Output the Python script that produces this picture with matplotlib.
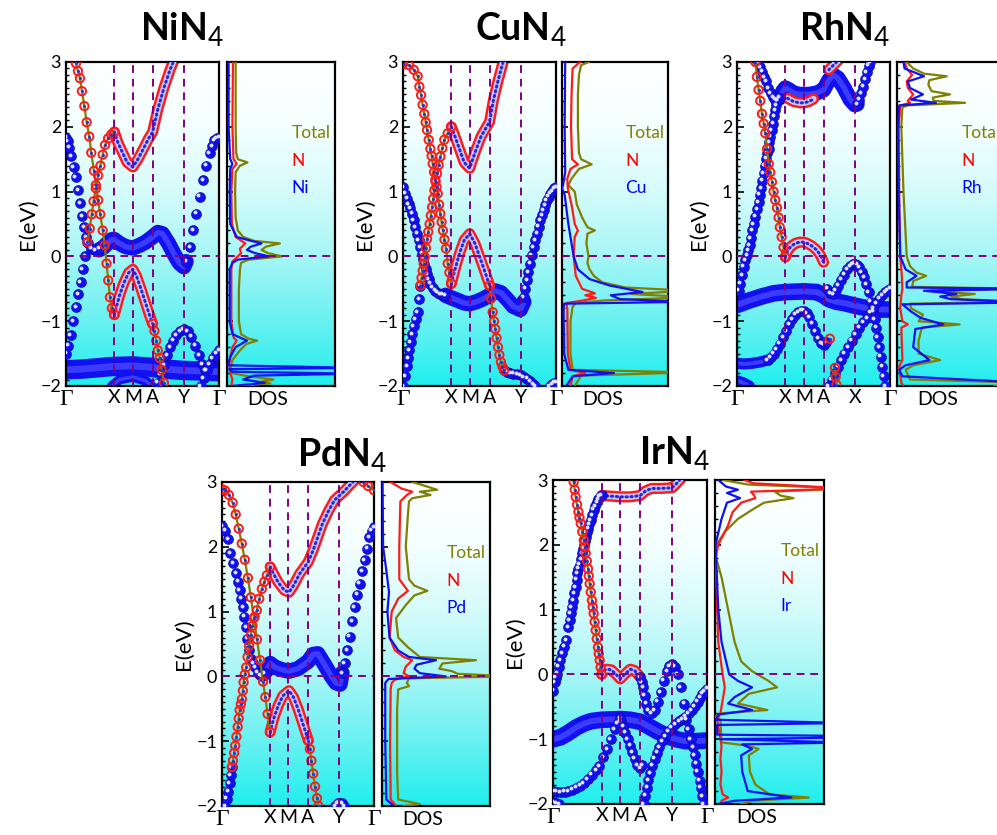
import numpy as np
import matplotlib
matplotlib.use('Agg')
import matplotlib.pyplot as plt
from matplotlib.colors import LinearSegmentedColormap
from matplotlib.transforms import offset_copy
from matplotlib.ticker import MultipleLocator

plt.rcParams['font.family'] = ['Lato', 'DejaVu Sans']
plt.rcParams['mathtext.fontset'] = 'custom'
plt.rcParams['mathtext.rm'] = 'Lato'
plt.rcParams['mathtext.bf'] = 'Lato:bold'

# high-symmetry path positions (fraction of k-path)
kpath = [0.0, 0.316, 0.437, 0.566, 0.77, 1.0]
labels_y = ['Γ', 'X', 'M', 'A', 'Y', 'Γ']
labels_x = ['Γ', 'X', 'M', 'A', 'X', 'Γ']

# ------------------------- NiN4 -------------------------
ni_n_thin = [
    [(0.065, 2.98), (0.078, 2.86), (0.091, 2.75), (0.104, 2.55), (0.12, 2.32), (0.135, 2.07), (0.152, 1.85),
     (0.165, 1.6), (0.183, 1.32), (0.195, 1.1), (0.21, 0.87), (0.224, 0.65), (0.24, 0.4), (0.253, 0.17),
     (0.265, -0.11), (0.276, -0.37), (0.287, -0.63), (0.3, -0.8), (0.316, -0.9)],
    [(0.566, -1.04), (0.578, -1.15), (0.59, -1.3), (0.6, -1.45), (0.612, -1.57), (0.625, -1.75), (0.64, -1.95)],
    [(0.14, 0.22), (0.155, 0.43), (0.168, 0.65), (0.18, 0.85), (0.195, 1.05), (0.21, 1.25), (0.225, 1.4),
     (0.24, 1.57), (0.255, 1.72), (0.275, 1.82), (0.295, 1.88), (0.316, 1.92)],
]
ni_m_thin = [
    [(0.0, -1.5), (0.015, -1.38), (0.03, -1.22), (0.048, -1.0), (0.065, -0.78), (0.08, -0.58), (0.095, -0.4),
     (0.11, -0.2), (0.125, 0.0), (0.14, 0.22)],
    [(0.0, 1.83), (0.011, 1.78), (0.022, 1.68), (0.035, 1.55), (0.05, 1.38), (0.063, 1.22), (0.078, 1.02),
     (0.092, 0.82), (0.105, 0.62), (0.118, 0.45), (0.13, 0.3), (0.145, 0.2), (0.165, 0.12), (0.19, 0.1),
     (0.215, 0.12)],
    [(0.785, -0.08), (0.81, 0.14), (0.83, 0.4), (0.852, 0.66), (0.874, 0.92), (0.896, 1.18), (0.918, 1.4),
     (0.94, 1.59), (0.955, 1.7), (0.97, 1.79), (0.985, 1.82), (1.0, 1.83)],
    [(0.6, -1.95), (0.62, -1.82), (0.64, -1.68), (0.66, -1.52), (0.68, -1.4), (0.7, -1.3), (0.72, -1.22),
     (0.745, -1.15), (0.77, -1.12), (0.795, -1.15), (0.82, -1.24), (0.845, -1.38), (0.87, -1.52),
     (0.89, -1.66), (0.91, -1.76)],
    [(1.0, -1.45), (0.98, -1.5), (0.96, -1.57), (0.94, -1.66), (0.92, -1.76), (0.9, -1.88), (0.88, -2.0)],
]
ni_n_fat = [
    [(0.316, -0.9), (0.35, -0.6), (0.38, -0.4), (0.41, -0.25), (0.437, -0.2), (0.46, -0.3), (0.49, -0.5),
     (0.52, -0.72), (0.545, -0.9), (0.566, -1.04)],
    [(0.316, 1.92), (0.34, 1.75), (0.37, 1.6), (0.4, 1.45), (0.437, 1.38), (0.47, 1.5), (0.51, 1.68),
     (0.54, 1.82), (0.566, 1.92), (0.6, 2.27), (0.64, 2.6), (0.68, 2.88), (0.71, 3.05)],
]
ni_m_fat = [
    [(0.215, 0.1), (0.24, 0.13), (0.27, 0.2), (0.3, 0.26), (0.316, 0.26), (0.35, 0.2), (0.39, 0.15),
     (0.437, 0.13), (0.48, 0.17), (0.52, 0.22), (0.566, 0.3), (0.6, 0.37), (0.63, 0.35), (0.67, 0.2),
     (0.71, 0.02), (0.74, -0.1), (0.77, -0.16), (0.785, -0.08)],
    [(0.0, -1.75), (0.1, -1.74), (0.2, -1.72), (0.3, -1.7), (0.437, -1.69), (0.55, -1.71), (0.65, -1.74),
     (0.77, -1.76), (0.9, -1.77), (1.0, -1.78)],
    [(0.3, -2.0), (0.35, -1.9), (0.437, -1.86), (0.52, -1.92), (0.56, -2.0)],
]
ni_dos_total = [(3.0, 0.8), (2.5, 0.8), (2.0, 0.8), (1.6, 0.85), (1.5, 1.0), (1.45, 1.9), (1.4, 1.2), (1.3, 0.8),
                (1.0, 0.75), (0.6, 0.8), (0.4, 1.0), (0.3, 1.5), (0.24, 2.5), (0.2, 4.9), (0.15, 3.6), (0.1, 3.2),
                (0.05, 3.8), (0.0, 5.1), (-0.05, 2.0), (-0.1, 1.3), (-0.2, 1.2), (-0.5, 1.1), (-1.0, 1.1),
                (-1.2, 1.3), (-1.27, 2.0), (-1.3, 2.8), (-1.35, 1.8), (-1.45, 1.2), (-1.6, 0.5), (-1.7, 0.35),
                (-1.8, 0.4), (-1.85, 2.0), (-1.9, 4.3), (-1.93, 3.2), (-1.96, 4.0), (-2.0, 1.0)]
ni_dos_n = [(3.0, 0.55), (2.0, 0.5), (1.5, 0.6), (1.43, 0.9), (1.35, 0.5), (1.0, 0.4), (0.5, 0.45), (0.3, 0.8),
            (0.2, 1.7), (0.12, 1.2), (0.05, 1.3), (0.0, 1.0), (-0.08, 0.5), (-0.2, 0.4), (-1.0, 0.4),
            (-1.25, 0.6), (-1.3, 0.9), (-1.4, 0.5), (-1.65, 0.2), (-1.8, 0.3), (-1.9, 0.5), (-2.0, 0.4)]
ni_dos_m = [(3.0, 0.15), (2.0, 0.15), (1.5, 0.3), (1.43, 0.5), (1.35, 0.3), (1.0, 0.25), (0.5, 0.3), (0.3, 0.9),
            (0.25, 2.0), (0.2, 3.2), (0.15, 2.2), (0.1, 1.85), (0.05, 2.6), (0.0, 3.9), (-0.05, 1.0),
            (-0.1, 0.5), (-0.2, 0.25), (-1.0, 0.25), (-1.2, 0.5), (-1.3, 1.85), (-1.4, 0.8), (-1.55, 0.3),
            (-1.68, 0.1), (-1.72, 12), (-1.74, 0.2), (-1.78, 0.5), (-1.81, 12), (-1.84, 2.5), (-1.9, 1.5),
            (-1.95, 3.5), (-2.0, 0.5)]

# ------------------------- CuN4 -------------------------
cu_n_thin = [
    [(0.0, 2.97), (0.04, 2.95), (0.07, 2.88), (0.096, 2.78), (0.107, 2.62), (0.118, 2.49), (0.128, 2.34),
     (0.139, 2.2), (0.148, 2.07), (0.157, 1.95), (0.168, 1.8), (0.179, 1.66), (0.187, 1.55), (0.194, 1.43),
     (0.203, 1.3), (0.211, 1.18), (0.219, 1.07), (0.227, 0.97), (0.236, 0.8), (0.244, 0.66), (0.252, 0.53),
     (0.261, 0.4), (0.271, 0.26), (0.281, 0.12), (0.292, -0.11), (0.303, -0.25), (0.316, -0.42)],
    [(0.566, -0.45), (0.576, -0.65), (0.586, -0.86), (0.595, -1.0), (0.603, -1.12), (0.612, -1.26),
     (0.621, -1.4), (0.63, -1.52), (0.64, -1.63), (0.65, -1.7), (0.66, -1.76)],
    [(0.113, -0.45), (0.121, -0.33), (0.129, -0.22), (0.135, -0.11), (0.142, -0.01), (0.15, 0.13),
     (0.157, 0.27), (0.165, 0.38), (0.174, 0.5), (0.182, 0.63), (0.19, 0.76), (0.197, 0.89), (0.205, 1.02),
     (0.213, 1.15), (0.222, 1.28), (0.233, 1.41), (0.244, 1.54), (0.257, 1.67), (0.27, 1.8), (0.292, 1.9),
     (0.316, 2.0)],
]
cu_m_thin = [
    [(0.0, -2.0), (0.013, -1.85), (0.026, -1.69), (0.034, -1.57), (0.041, -1.45), (0.05, -1.32),
     (0.059, -1.2), (0.07, -1.08), (0.083, -0.97), (0.096, -0.86), (0.105, -0.66), (0.113, -0.45)],
    [(0.0, 1.07), (0.015, 0.97), (0.026, 0.89), (0.037, 0.81), (0.048, 0.74), (0.059, 0.66), (0.07, 0.56),
     (0.081, 0.45), (0.092, 0.35), (0.102, 0.25), (0.113, 0.14), (0.124, 0.04), (0.132, -0.04),
     (0.14, -0.11), (0.148, -0.19), (0.157, -0.27), (0.168, -0.35), (0.179, -0.42), (0.195, -0.48),
     (0.211, -0.53), (0.228, -0.56), (0.244, -0.58), (0.26, -0.59), (0.277, -0.6)],
    [(0.79, -0.63), (0.8, -0.5), (0.81, -0.37), (0.82, -0.24), (0.83, -0.11), (0.842, 0.02), (0.854, 0.14),
     (0.865, 0.25), (0.876, 0.35), (0.887, 0.46), (0.898, 0.56), (0.909, 0.64), (0.92, 0.71), (0.93, 0.79),
     (0.94, 0.87), (0.952, 0.92), (0.963, 0.97), (0.975, 1.01), (0.987, 1.05), (1.0, 1.07)],
    [(0.66, -1.76), (0.68, -1.78), (0.7, -1.8), (0.72, -1.81), (0.745, -1.82), (0.77, -1.83), (0.79, -1.86),
     (0.81, -1.89), (0.83, -1.93), (0.85, -1.97), (0.865, -2.0)],
    [(0.96, -2.0), (0.975, -1.97), (0.99, -1.95), (1.0, -1.95)],
]
cu_n_fat = [
    [(0.316, -0.42), (0.34, -0.2), (0.37, 0.05), (0.4, 0.25), (0.436, 0.35), (0.47, 0.2), (0.5, 0.0),
     (0.53, -0.2), (0.566, -0.45)],
    [(0.316, 2.0), (0.34, 1.85), (0.37, 1.65), (0.4, 1.45), (0.436, 1.36), (0.47, 1.6), (0.51, 1.85),
     (0.566, 2.08), (0.59, 2.4), (0.62, 2.7), (0.66, 3.05)],
]
cu_m_fat = [
    [(0.277, -0.6), (0.316, -0.64), (0.36, -0.68), (0.4, -0.72), (0.437, -0.73), (0.48, -0.7), (0.52, -0.66),
     (0.566, -0.6), (0.6, -0.53), (0.64, -0.56), (0.68, -0.66), (0.72, -0.77), (0.767, -0.82), (0.79, -0.7)],
]
cu_dos_total = [(3.0, 2.5), (2.95, 1.8), (2.8, 1.6), (2.5, 1.5), (2.0, 1.5), (1.6, 1.6), (1.5, 1.8), (1.42, 2.8),
                (1.35, 1.6), (1.2, 0.9), (1.1, 0.6), (1.05, 0.9), (1.0, 1.2), (0.8, 1.4), (0.6, 1.9), (0.45, 2.4),
                (0.4, 3.1), (0.35, 2.4), (0.2, 2.3), (0.0, 2.5), (-0.1, 2.4), (-0.2, 2.6), (-0.3, 3.0),
                (-0.4, 3.8), (-0.48, 6.0), (-0.53, 12), (-0.58, 6.5), (-0.63, 12), (-0.68, 4.0), (-0.72, 1.3),
                (-0.78, 1.0), (-1.0, 0.8), (-1.5, 0.8), (-1.75, 1.0), (-1.79, 12), (-1.84, 1.8), (-1.92, 1.5),
                (-2.0, 1.2)]
cu_dos_n = [(3.0, 1.7), (2.9, 1.0), (2.5, 0.9), (2.0, 0.85), (1.5, 0.95), (1.42, 1.5), (1.35, 0.8), (1.2, 0.5),
            (1.05, 0.55), (0.8, 0.9), (0.5, 1.2), (0.4, 1.5), (0.3, 1.2), (0.0, 1.1), (-0.3, 1.3), (-0.5, 1.9),
            (-0.57, 3.1), (-0.6, 2.2), (-0.64, 3.2), (-0.68, 2.0), (-0.72, 0.4), (-0.8, 0.5), (-1.5, 0.55),
            (-1.75, 0.8), (-1.8, 2.2), (-1.85, 1.0), (-2.0, 0.8)]
cu_dos_m = [(3.0, 0.3), (2.0, 0.25), (1.3, 0.3), (1.1, 0.1), (1.05, 0.0), (0.95, 0.25), (0.5, 0.6), (0.2, 0.9),
            (0.0, 1.1), (-0.2, 1.5), (-0.35, 2.6), (-0.45, 4.5), (-0.55, 7.6), (-0.6, 4.6), (-0.66, 5.5),
            (-0.7, 12), (-0.73, 0.2), (-0.8, 0.15), (-1.5, 0.2), (-1.75, 0.6), (-1.8, 4.9), (-1.85, 1.0),
            (-2.0, 0.4)]

# ------------------------- RhN4 -------------------------
rh_n_thin = [
    [(0.12, 3.0), (0.13, 2.77), (0.141, 2.57), (0.152, 2.4), (0.163, 2.2), (0.174, 2.05), (0.185, 1.9),
     (0.196, 1.66), (0.207, 1.43), (0.217, 1.3), (0.228, 1.15), (0.239, 1.0), (0.25, 0.87), (0.261, 0.75),
     (0.272, 0.6), (0.28, 0.45), (0.292, 0.3), (0.304, 0.14), (0.316, -0.01)],
    [(0.64, -1.72), (0.645, -1.86), (0.65, -1.98)],
    [(0.607, -1.27)],
]
rh_m_thin = [
    [(0.01, -0.53), (0.022, -0.42), (0.033, -0.29), (0.043, -0.16), (0.055, -0.06), (0.065, 0.02),
     (0.074, 0.1), (0.083, 0.17), (0.09, 0.28), (0.098, 0.4), (0.109, 0.5), (0.12, 0.61), (0.13, 0.73),
     (0.141, 0.84), (0.149, 0.95), (0.157, 1.05), (0.165, 1.17), (0.174, 1.28), (0.182, 1.4), (0.191, 1.51),
     (0.199, 1.59), (0.207, 1.66), (0.212, 1.76), (0.217, 1.85), (0.226, 1.95), (0.235, 2.05),
     (0.243, 2.16), (0.25, 2.26), (0.258, 2.33), (0.265, 2.41)],
    [(0.14, 3.0), (0.152, 2.92), (0.165, 2.85), (0.178, 2.77), (0.19, 2.7), (0.205, 2.6), (0.22, 2.52),
     (0.235, 2.46), (0.25, 2.42), (0.265, 2.41), (0.28, 2.45)],
    [(0.785, 2.35), (0.8, 2.42), (0.812, 2.52), (0.824, 2.62), (0.836, 2.73), (0.848, 2.84), (0.86, 2.94),
     (0.87, 3.0)],
    [(0.59, -0.5), (0.61, -0.57), (0.63, -0.58), (0.645, -0.52), (0.66, -0.45), (0.68, -0.36), (0.7, -0.28),
     (0.72, -0.2), (0.74, -0.15), (0.755, -0.12), (0.77, -0.11), (0.785, -0.13), (0.8, -0.17),
     (0.815, -0.24), (0.83, -0.32), (0.845, -0.43), (0.86, -0.55), (0.875, -0.7), (0.89, -0.85),
     (0.9, -0.97), (0.91, -1.1), (0.92, -1.25), (0.93, -1.4), (0.94, -1.55), (0.95, -1.7), (0.96, -1.85),
     (0.97, -2.0)],
    [(1.0, -0.5), (0.985, -0.52), (0.97, -0.55), (0.95, -0.6), (0.93, -0.65), (0.91, -0.72), (0.89, -0.8),
     (0.87, -0.87), (0.85, -0.95), (0.825, -1.02), (0.8, -1.1), (0.775, -1.2), (0.75, -1.3), (0.725, -1.4),
     (0.7, -1.5), (0.68, -1.6), (0.66, -1.7), (0.64, -1.8), (0.62, -1.9), (0.6, -2.0)],
    [(0.2, -1.6), (0.22, -1.56), (0.24, -1.5), (0.26, -1.43), (0.28, -1.35), (0.3, -1.25), (0.32, -1.15),
     (0.34, -1.05), (0.36, -0.97), (0.38, -0.9), (0.4, -0.86), (0.42, -0.84), (0.437, -0.84), (0.455, -0.88),
     (0.47, -0.94), (0.49, -1.04), (0.51, -1.15), (0.53, -1.26), (0.55, -1.34), (0.566, -1.36),
     (0.58, -1.32)],
]
rh_n_fat = [
    [(0.316, -0.01), (0.33, 0.08), (0.35, 0.15), (0.38, 0.2), (0.41, 0.22), (0.437, 0.22), (0.46, 0.2),
     (0.49, 0.16), (0.52, 0.1), (0.545, 0.02), (0.566, -0.09)],
    [(0.33, 2.44), (0.37, 2.39), (0.41, 2.37), (0.437, 2.37), (0.47, 2.39), (0.5, 2.43)],
    [(0.6, 2.88), (0.63, 2.95), (0.66, 3.02)],
]
rh_m_fat = [
    [(0.28, 2.45), (0.3, 2.55), (0.316, 2.6), (0.34, 2.57), (0.37, 2.52), (0.41, 2.5), (0.437, 2.5),
     (0.47, 2.5), (0.52, 2.52), (0.566, 2.57), (0.6, 2.72), (0.63, 2.8), (0.66, 2.75), (0.7, 2.6),
     (0.74, 2.42), (0.77, 2.34), (0.785, 2.35)],
    [(0.0, -0.75), (0.08, -0.68), (0.16, -0.62), (0.24, -0.57), (0.316, -0.55), (0.437, -0.54), (0.52, -0.55),
     (0.566, -0.6), (0.6, -0.66), (0.65, -0.7), (0.7, -0.72), (0.77, -0.76), (0.85, -0.8), (0.93, -0.82),
     (1.0, -0.82)],
    [(0.0, -1.65), (0.05, -1.66), (0.1, -1.65), (0.15, -1.63), (0.2, -1.6)],
    [(0.0, -1.92), (0.04, -1.95), (0.08, -2.0)],
]
rh_dos_total = [(3.0, 0.9), (2.9, 1.5), (2.82, 2.5), (2.78, 4.6), (2.72, 3.0), (2.65, 2.9), (2.55, 3.2),
                (2.5, 4.9), (2.45, 3.3), (2.4, 3.4), (2.37, 6.3), (2.33, 1.0), (2.3, 0.5), (2.0, 0.4), (1.5, 0.5),
                (1.0, 0.6), (0.5, 0.75), (0.0, 0.9), (-0.15, 1.2), (-0.25, 1.8), (-0.3, 2.7), (-0.38, 1.5),
                (-0.47, 1.4), (-0.5, 12), (-0.53, 3.0), (-0.58, 7.2), (-0.62, 5.0), (-0.66, 6.0), (-0.7, 12),
                (-0.73, 1.2), (-0.8, 1.3), (-0.9, 2.4), (-1.0, 2.0), (-1.05, 5.8), (-1.1, 2.3), (-1.3, 2.0),
                (-1.5, 2.0), (-1.6, 4.0), (-1.68, 1.5), (-1.75, 0.8), (-1.9, 1.2), (-1.95, 12), (-2.0, 9)]
rh_dos_n = [(3.0, 0.7), (2.9, 0.9), (2.8, 1.4), (2.7, 0.9), (2.6, 1.0), (2.5, 1.5), (2.4, 1.0), (2.37, 1.2),
            (2.33, 0.3), (2.0, 0.15), (1.0, 0.2), (0.0, 0.3), (-0.3, 0.45), (-0.5, 0.5), (-0.6, 0.4),
            (-0.8, 0.3), (-1.0, 0.5), (-1.05, 1.0), (-1.1, 0.4), (-1.6, 0.5), (-1.7, 0.2), (-1.95, 0.4),
            (-2.0, 0.6)]
rh_dos_m = [(3.0, 0.6), (2.9, 0.7), (2.78, 2.5), (2.7, 1.0), (2.6, 1.2), (2.5, 2.4), (2.42, 1.3), (2.37, 3.6),
            (2.33, 0.2), (2.0, 0.1), (1.0, 0.15), (0.0, 0.3), (-0.2, 0.8), (-0.3, 1.8), (-0.4, 0.9),
            (-0.48, 0.9), (-0.5, 12), (-0.53, 2.5), (-0.58, 5.5), (-0.62, 4.0), (-0.66, 5.0), (-0.71, 12),
            (-0.74, 0.5), (-0.85, 1.3), (-0.95, 2.2), (-1.05, 4.3), (-1.12, 1.7), (-1.4, 1.5), (-1.6, 3.0),
            (-1.68, 0.8), (-1.75, 0.2), (-1.85, 0.5), (-1.95, 12), (-2.0, 10)]

# ------------------------- PdN4 -------------------------
pd_n_thin = [
    [(0.0, 2.89), (0.02, 2.87), (0.045, 2.8), (0.07, 2.68), (0.09, 2.5), (0.11, 2.28), (0.13, 2.05),
     (0.15, 1.8), (0.17, 1.52), (0.19, 1.22), (0.21, 0.9), (0.23, 0.57), (0.25, 0.25), (0.27, -0.08),
     (0.285, -0.32), (0.3, -0.58), (0.317, -0.86)],
    [(0.568, -0.99), (0.578, -1.12), (0.588, -1.3), (0.6, -1.5), (0.612, -1.7), (0.625, -1.88), (0.635, -2.0)],
    [(0.065, -1.4), (0.072, -1.3), (0.08, -1.18), (0.087, -1.07), (0.095, -0.93), (0.103, -0.78),
     (0.11, -0.65), (0.116, -0.52), (0.124, -0.43), (0.131, -0.35), (0.137, -0.22), (0.142, -0.09),
     (0.15, 0.03), (0.159, 0.14), (0.168, 0.3), (0.178, 0.47), (0.19, 0.64), (0.2, 0.78), (0.215, 0.92),
     (0.229, 1.02), (0.245, 1.2), (0.262, 1.35), (0.278, 1.46), (0.295, 1.56), (0.317, 1.69)],
    [(0.93, 3.0), (0.96, 2.94), (1.0, 2.87)],
]
pd_m_thin = [
    [(0.02, -2.0), (0.03, -1.89), (0.04, -1.78), (0.05, -1.65), (0.058, -1.52), (0.065, -1.4)],
    [(0.0, 2.32), (0.02, 2.25), (0.04, 2.12), (0.055, 1.9), (0.075, 1.75), (0.094, 1.59), (0.105, 1.46),
     (0.116, 1.33), (0.127, 1.2), (0.138, 1.07), (0.148, 0.92), (0.159, 0.76), (0.167, 0.58), (0.175, 0.4),
     (0.19, 0.27), (0.205, 0.2), (0.218, 0.14), (0.235, 0.06), (0.25, 0.02), (0.265, 0.0), (0.28, 0.05)],
    [(0.79, 0.05), (0.808, 0.2), (0.825, 0.4), (0.84, 0.61), (0.857, 0.85), (0.873, 1.07), (0.89, 1.26),
     (0.906, 1.43), (0.922, 1.62), (0.939, 1.79), (0.955, 1.97), (0.97, 2.15), (0.985, 2.25), (1.0, 2.3)],
    [(0.745, -2.0), (0.76, -1.96), (0.775, -1.95), (0.79, -1.96), (0.805, -2.0)],
]
pd_n_fat = [
    [(0.317, -0.86), (0.34, -0.65), (0.37, -0.45), (0.4, -0.3), (0.441, -0.22), (0.47, -0.32), (0.5, -0.5),
     (0.535, -0.75), (0.568, -0.99)],
    [(0.317, 1.69), (0.34, 1.58), (0.37, 1.45), (0.41, 1.33), (0.441, 1.3), (0.47, 1.4), (0.51, 1.58),
     (0.568, 1.77), (0.6, 1.95), (0.63, 2.15), (0.66, 2.35), (0.7, 2.55), (0.74, 2.72), (0.777, 2.8),
     (0.8, 2.85), (0.84, 2.95), (0.87, 3.02)],
]
pd_m_fat = [
    [(0.28, 0.05), (0.3, 0.12), (0.317, 0.2), (0.35, 0.14), (0.4, 0.1), (0.441, 0.08), (0.5, 0.12),
     (0.566, 0.23), (0.6, 0.34), (0.63, 0.35), (0.67, 0.2), (0.72, 0.0), (0.75, -0.1), (0.777, -0.12),
     (0.79, 0.05)],
]
pd_dos_total = [(3.0, 2.8), (2.95, 3.8), (2.88, 5.1), (2.85, 3.5), (2.8, 4.5), (2.75, 2.8), (2.7, 2.5),
                (2.5, 2.4), (2.0, 2.2), (1.5, 2.5), (1.4, 3.0), (1.32, 4.2), (1.25, 3.0), (1.1, 2.2), (0.9, 1.3),
                (0.6, 1.5), (0.45, 2.4), (0.3, 3.5), (0.25, 8.7), (0.2, 5.6), (0.12, 5.3), (0.08, 6.5),
                (0.04, 7.0), (0.0, 12), (-0.03, 2.5), (-0.1, 2.3), (-0.15, 2.5), (-0.2, 1.5), (-0.5, 1.4),
                (-1.0, 1.4), (-1.5, 1.4), (-1.9, 1.5), (-1.97, 3.5), (-2.0, 2.0)]
pd_dos_n = [(3.0, 0.8), (2.9, 1.8), (2.85, 2.8), (2.8, 2.3), (2.7, 1.7), (2.0, 1.6), (1.5, 1.6), (1.32, 2.4),
            (1.2, 1.5), (1.0, 0.9), (0.6, 0.7), (0.4, 1.2), (0.3, 2.0), (0.25, 2.8), (0.15, 2.2), (0.05, 2.0),
            (0.0, 2.5), (-0.05, 1.2), (-0.1, 0.9), (-0.2, 0.8), (-1.0, 0.75), (-1.9, 0.8), (-2.0, 1.3)]
pd_dos_m = [(3.0, 0.05), (2.0, 0.1), (1.7, 0.35), (1.5, 0.5), (1.3, 0.65), (1.0, 0.5), (0.6, 0.7), (0.4, 1.5),
            (0.3, 2.5), (0.25, 5.0), (0.18, 3.2), (0.12, 3.0), (0.05, 3.5), (0.0, 5.9), (-0.04, 0.6),
            (-0.1, 0.3), (-1.0, 0.3), (-1.9, 0.4), (-2.0, 1.1)]

# ------------------------- IrN4 -------------------------
ir_n_thin = [
    [(0.134, 2.97), (0.141, 2.85), (0.147, 2.74), (0.156, 2.62), (0.165, 2.51), (0.172, 2.42), (0.18, 2.33),
     (0.19, 2.2), (0.2, 2.07), (0.206, 1.97), (0.212, 1.87), (0.22, 1.75), (0.227, 1.63), (0.232, 1.52),
     (0.238, 1.4), (0.245, 1.27), (0.253, 1.14), (0.258, 1.04), (0.264, 0.94), (0.27, 0.81), (0.277, 0.68),
     (0.284, 0.55), (0.292, 0.42), (0.297, 0.32), (0.303, 0.22), (0.309, 0.11), (0.316, 0.0)],
]
ir_m_thin = [
    [(0.0, -0.25), (0.01, -0.12), (0.018, -0.05), (0.026, 0.01), (0.037, 0.12), (0.048, 0.22), (0.06, 0.33),
     (0.074, 0.43), (0.087, 0.53), (0.1, 0.73), (0.108, 0.84), (0.115, 0.94), (0.122, 1.04), (0.13, 1.14),
     (0.138, 1.25), (0.147, 1.35), (0.153, 1.46), (0.158, 1.56), (0.165, 1.63), (0.173, 1.69), (0.182, 1.78),
     (0.19, 1.87), (0.195, 1.94), (0.2, 2.0), (0.206, 2.06), (0.212, 2.12), (0.22, 2.19), (0.227, 2.25),
     (0.236, 2.32), (0.245, 2.38), (0.255, 2.46), (0.264, 2.54), (0.275, 2.6), (0.286, 2.66), (0.295, 2.7),
     (0.303, 2.74), (0.316, 2.77)],
    [(0.566, -0.04), (0.575, -0.12), (0.584, -0.2), (0.595, -0.33), (0.606, -0.45), (0.62, -0.55),
     (0.64, -0.6), (0.66, -0.55), (0.68, -0.42), (0.7, -0.27), (0.72, -0.1), (0.74, 0.05), (0.755, 0.13),
     (0.773, 0.16), (0.79, 0.12), (0.81, 0.0), (0.83, -0.2), (0.85, -0.45), (0.866, -0.7), (0.88, -0.85),
     (0.895, -1.0), (0.91, -1.12), (0.92, -1.25), (0.93, -1.38), (0.94, -1.5), (0.952, -1.64), (0.96, -1.75),
     (0.97, -1.88), (0.978, -2.0)],
    [(1.0, -0.22), (0.985, -0.26), (0.97, -0.3), (0.955, -0.36), (0.94, -0.42), (0.92, -0.49), (0.9, -0.55),
     (0.88, -0.6), (0.86, -0.65), (0.84, -0.69), (0.82, -0.72), (0.795, -0.77), (0.77, -0.82), (0.75, -0.88),
     (0.73, -0.95), (0.71, -1.03), (0.69, -1.12), (0.675, -1.21), (0.66, -1.3), (0.645, -1.41), (0.63, -1.52),
     (0.62, -1.63), (0.61, -1.75), (0.6, -1.87), (0.59, -2.0)],
    [(0.44, -0.72), (0.455, -0.81), (0.47, -0.9), (0.485, -1.0), (0.5, -1.1), (0.515, -1.2), (0.53, -1.3),
     (0.548, -1.4), (0.566, -1.45), (0.58, -1.4)],
    [(0.0, -1.8), (0.025, -1.81), (0.05, -1.82), (0.075, -1.81), (0.1, -1.8), (0.125, -1.78), (0.15, -1.75),
     (0.175, -1.72), (0.2, -1.68), (0.225, -1.62), (0.25, -1.55), (0.28, -1.48), (0.3, -1.42),
     (0.325, -1.28), (0.35, -1.15), (0.375, -1.0), (0.4, -0.85), (0.42, -0.75), (0.437, -0.68)],
    [(0.0, -1.97), (0.02, -1.99), (0.04, -2.0)],
]
ir_n_fat = [
    [(0.316, 0.0), (0.33, 0.06), (0.35, 0.08), (0.379, 0.07), (0.41, 0.0), (0.437, -0.07), (0.465, 0.0),
     (0.502, 0.08), (0.53, 0.06), (0.566, -0.04)],
    [(0.316, 2.76), (0.38, 2.75), (0.437, 2.74), (0.5, 2.74), (0.566, 2.76), (0.6, 2.83), (0.64, 2.87),
     (0.7, 2.87), (0.773, 2.88), (0.8, 2.94), (0.83, 3.02)],
]
ir_m_fat = [
    [(0.0, -1.0), (0.05, -0.97), (0.1, -0.9), (0.15, -0.82), (0.2, -0.76), (0.25, -0.72), (0.316, -0.7),
     (0.44, -0.69), (0.5, -0.7), (0.566, -0.73), (0.62, -0.8), (0.68, -0.88), (0.74, -0.95), (0.8, -1.0),
     (0.86, -1.03), (0.93, -1.03), (1.0, -1.02)],
]
ir_dos_total = [(3.0, 0.75), (2.93, 3.0), (2.87, 12), (2.82, 5.5), (2.76, 6.0), (2.72, 7.2), (2.65, 4.5),
                (2.55, 3.5), (2.4, 2.1), (2.2, 0.9), (2.0, 0.15), (1.8, 0.1), (1.5, 0.6), (1.0, 1.2), (0.5, 1.8),
                (0.2, 2.4), (0.05, 3.4), (-0.1, 4.9), (-0.2, 5.7), (-0.3, 3.1), (-0.45, 2.1), (-0.55, 4.8),
                (-0.6, 0.5), (-0.65, 0.0), (-0.7, 0.5), (-1.05, 0.6), (-1.1, 3.0), (-1.15, 4.0), (-1.25, 3.1),
                (-1.5, 3.2), (-1.7, 3.7), (-1.85, 5.0), (-1.9, 8.6), (-1.95, 3.5), (-2.0, 2.4)]
ir_dos_n = [(3.0, 2.7), (2.95, 3.5), (2.87, 12), (2.82, 3.3), (2.76, 3.6), (2.72, 3.7), (2.65, 2.4), (2.5, 1.6),
            (2.3, 1.2), (2.0, 0.3), (1.8, 0.05), (1.0, 0.2), (0.5, 0.3), (0.0, 0.7), (-0.2, 0.9), (-0.4, 0.7),
            (-0.6, 0.5), (-0.7, 0.2), (-0.9, 0.4), (-1.1, 0.6), (-1.3, 0.5), (-1.5, 0.6), (-1.7, 0.5),
            (-1.85, 0.7), (-1.9, 1.2), (-1.95, 0.6), (-2.0, 0.5)]
ir_dos_m = [(3.0, 0.3), (2.9, 1.0), (2.85, 2.1), (2.8, 1.1), (2.72, 2.3), (2.65, 1.1), (2.4, 0.6), (2.0, 0.05),
            (1.0, 0.3), (0.5, 0.6), (0.0, 1.3), (-0.1, 2.1), (-0.2, 3.4), (-0.35, 1.8), (-0.45, 1.2),
            (-0.55, 3.4), (-0.62, 0.3), (-0.7, 0.1), (-0.75, 12), (-0.78, 0.2), (-0.93, 0.2), (-0.95, 12),
            (-0.98, 10), (-1.0, 0.5), (-1.05, 12), (-1.08, 2.5), (-1.15, 3.4), (-1.25, 2.4), (-1.5, 2.5),
            (-1.8, 3.0), (-1.9, 7.0), (-1.95, 1.8), (-2.0, 0.3)]

# ------------------------- styling -------------------------
W, H = 997, 835
OLIVE = '#808000'
RED = '#ff1a1a'
BLUE = '#1010f0'
PURPLE = '#800080'
bg_cmap = LinearSegmentedColormap.from_list(
    'bg', ['#ffffff', '#f4ffff', '#d6fbfb', '#a6f6f6', '#6af1f1', '#20eeee'])


def rect(x0, y0, x1, y1):
    return [x0 / W, 1 - y1 / H, (x1 - x0) / W, (y1 - y0) / H]


def kv(band):
    a = np.array(band)
    return a[:, 0], a[:, 1]


def gradient(ax, x0, x1):
    ax.imshow(np.linspace(0, 1, 256).reshape(-1, 1), cmap=bg_cmap, extent=[x0, x1, -2, 3],
              aspect='auto', origin='upper', zorder=0, interpolation='bilinear')


def band_axes(fig, r, thin_n, thin_m, fat_n, fat_m, fat_lw, labels):
    ax = fig.add_axes(r)
    gradient(ax, 0, 1)
    hl = offset_copy(ax.transData, fig=fig, x=-1.0, y=1.0, units='points')
    for band, lw in zip(fat_m, fat_lw):
        k, e = kv(band)
        ax.plot(k, e, color=BLUE, lw=lw, solid_capstyle='round', zorder=2)
        ax.plot(k, e, color='#3c3cff', lw=lw * 0.35, solid_capstyle='round', zorder=2.1)
    for band in fat_n:
        k, e = kv(band)
        ax.plot(k, e, color=RED, lw=8, solid_capstyle='round', zorder=2.5)
        ax.plot(k, e, color='#c8c8ff', lw=4.5, solid_capstyle='round', zorder=2.6)
        ax.plot(k, e, color='#2828d8', lw=2.2, ls=(0, (0.4, 1.2)), dash_capstyle='round', zorder=2.7)
    for band in thin_m:
        k, e = kv(band)
        ax.scatter(k, e, s=52, c=BLUE, edgecolors='#0a0a90', linewidths=0.4, zorder=3)
        ax.scatter(k, e, s=8, c='#e0e0ff', linewidths=0, zorder=3.1, transform=hl)
    for band in thin_n:
        k, e = kv(band)
        ax.plot(k, e, color=OLIVE, lw=1.6, zorder=4)
        ax.scatter(k, e, s=36, facecolors='none', edgecolors=RED, linewidths=1.4, zorder=4.1)
        ax.scatter(k, e, s=5, c='#3030d0', linewidths=0, zorder=4.2)
    for kx in kpath[1:5]:
        ax.axvline(kx, color=PURPLE, ls=(0, (4, 3)), lw=1.4, zorder=5)
    ax.axhline(0, color=PURPLE, ls=(0, (4, 3)), lw=1.4, zorder=5)
    ax.set_xlim(0, 1)
    ax.set_ylim(-2, 3)
    ax.set_xticks(kpath, labels)
    for t in ax.get_xticklabels():
        if t.get_text() == 'Γ':
            t.set_fontfamily(['Liberation Serif', 'DejaVu Serif'])
            t.set_fontsize(17)
        else:
            t.set_fontsize(14)
    ax.tick_params(axis='x', length=0, pad=2)
    ax.set_yticks([-2, -1, 0, 1, 2, 3])
    ax.yaxis.set_minor_locator(MultipleLocator(0.1))
    ax.tick_params(axis='y', which='major', direction='in', length=5, width=1.2, labelsize=13)
    ax.tick_params(axis='y', which='minor', direction='in', length=2.5, width=1)
    ax.set_ylabel('E(eV)', fontsize=16, labelpad=2)
    for s in ax.spines.values():
        s.set_linewidth(1.6)
    return ax


def dos_axes(fig, r, total, n, m, metal):
    ax = fig.add_axes(r)
    gradient(ax, 0, 10)
    for curve, col in ((total, OLIVE), (n, RED), (m, BLUE)):
        a = np.array(curve)
        ax.plot(a[:, 1], a[:, 0], color=col, lw=1.6, zorder=3)
    ax.axhline(0, color=PURPLE, ls=(0, (4, 3)), lw=1.4, zorder=4)
    ax.set_xlim(0, 10)
    ax.set_ylim(-2, 3)
    ax.set_xticks([])
    ax.set_yticks([-2, -1, 0, 1, 2, 3])
    ax.set_yticklabels([])
    ax.yaxis.set_minor_locator(MultipleLocator(0.2))
    ax.tick_params(axis='y', which='major', direction='in', length=4, width=1.2)
    ax.tick_params(axis='y', which='minor', direction='in', length=2.5, width=1)
    ax.text(0.38, -0.015, 'DOS', transform=ax.transAxes, ha='center', va='top', fontsize=14)
    ax.text(6.0, 1.9, 'Total', color=OLIVE, fontsize=12.5, va='center', zorder=5)
    ax.text(6.0, 1.47, 'N', color='#ff0000', fontsize=12.5, va='center', zorder=5)
    ax.text(6.0, 1.06, metal, color='#0000ff', fontsize=12.5, va='center', zorder=5)
    for s in ax.spines.values():
        s.set_linewidth(1.6)
    return ax


fig = plt.figure(figsize=(W / 100, H / 100), dpi=100)

band_axes(fig, rect(66, 62, 219, 386), ni_n_thin, ni_m_thin, ni_n_fat, ni_m_fat, [11, 14, 7], labels_y)
dos_axes(fig, rect(227, 62, 335, 386), ni_dos_total, ni_dos_n, ni_dos_m, 'Ni')
fig.text(182 / W, 1 - 41 / H, r'NiN$_4$', ha='center', va='baseline', fontsize=27, fontweight='bold')

band_axes(fig, rect(403, 62, 556, 386), cu_n_thin, cu_m_thin, cu_n_fat, cu_m_fat, [11], labels_y)
dos_axes(fig, rect(562, 62, 668, 386), cu_dos_total, cu_dos_n, cu_dos_m, 'Cu')
fig.text(521 / W, 1 - 41 / H, r'CuN$_4$', ha='center', va='baseline', fontsize=27, fontweight='bold')

band_axes(fig, rect(737, 62, 890, 386), rh_n_thin, rh_m_thin, rh_n_fat, rh_m_fat, [11, 12, 8, 8], labels_x)
dos_axes(fig, rect(897, 62, 1005, 386), rh_dos_total, rh_dos_n, rh_dos_m, 'Rh')
fig.text(845 / W, 1 - 41 / H, r'RhN$_4$', ha='center', va='baseline', fontsize=27, fontweight='bold')

band_axes(fig, rect(222, 482, 374, 806), pd_n_thin, pd_m_thin, pd_n_fat, pd_m_fat, [11], labels_y)
dos_axes(fig, rect(382, 482, 490, 806), pd_dos_total, pd_dos_n, pd_dos_m, 'Pd')
fig.text(342 / W, 1 - 467 / H, r'PdN$_4$', ha='center', va='baseline', fontsize=27, fontweight='bold')

band_axes(fig, rect(553, 480, 707, 804), ir_n_thin, ir_m_thin, ir_n_fat, ir_m_fat, [12], labels_y)
dos_axes(fig, rect(715, 480, 824, 804), ir_dos_total, ir_dos_n, ir_dos_m, 'Ir')
fig.text(674 / W, 1 - 465 / H, r'IrN$_4$', ha='center', va='baseline', fontsize=27, fontweight='bold')

fig.savefig('out.png', dpi=100)
